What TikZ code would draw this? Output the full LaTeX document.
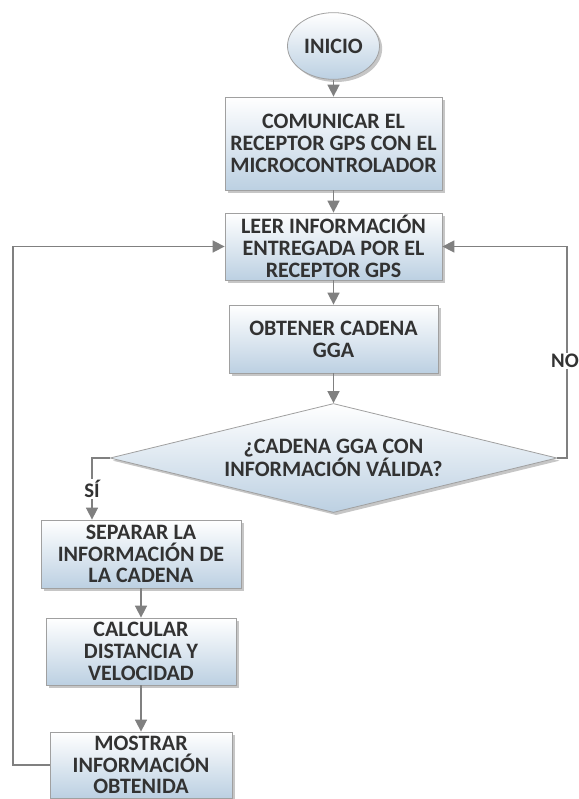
\documentclass[tikz,border=0pt]{standalone}
\usepackage{fontspec}
\setmainfont{Carlito}
\usetikzlibrary{shapes.geometric,arrows.meta,shadows}

\definecolor{boxtop}{RGB}{255,255,255}
\definecolor{boxbot}{RGB}{188,208,226}
\definecolor{boxline}{RGB}{160,160,160}
\definecolor{flowgray}{RGB}{128,128,128}
\definecolor{txtgray}{RGB}{50,50,50}

\tikzset{
  base/.style={draw=boxline, line width=0.6pt, top color=boxtop, bottom color=boxbot,
    drop shadow={shadow xshift=2pt, shadow yshift=-2pt, opacity=0.45, fill=gray},
    text=txtgray, font=\fontsize{16.5}{16.3}\selectfont\bfseries, align=center, inner sep=1pt},
  procbox/.style={base, rectangle},
  startbox/.style={base, ellipse},
  testbox/.style={base, diamond, shape aspect=4.1},
  flow/.style={draw=flowgray, line width=1.2pt, -{Triangle[length=9pt,width=9pt]}},
  lbl/.style={fill=white, text=txtgray, inner sep=1pt, font=\fontsize{15.5}{16.3}\selectfont\bfseries}
}

\begin{document}
\begin{tikzpicture}[x=0.75pt,y=-0.75pt]

				\useasboundingbox (0,0) rectangle (578,799);

				\def\xm{333.5}
				\def\xl{141}

				%main column
				\node[startbox, minimum width=69pt, minimum height=50pt] (inicio) at (\xm,46) {INICIO};
				\node[procbox, minimum width=162.75pt, minimum height=69.75pt] (comunicar) at (\xm,143.5) {COMUNICAR EL\\RECEPTOR GPS CON EL\\MICROCONTROLADOR};
				\node[procbox, minimum width=162.75pt, minimum height=50.25pt] (leer) at (\xm,246.5) {LEER INFORMACIÓN\\ENTREGADA POR EL\\RECEPTOR GPS};
				\node[procbox, minimum width=156.75pt, minimum height=51pt] (obtener) at (\xm,339) {OBTENER CADENA\\GGA};
				\node[testbox, minimum width=335.25pt, minimum height=81.75pt] (valida) at (\xm,458) {¿CADENA GGA CON\\INFORMACIÓN VÁLIDA?};

				%left column
				\node[procbox, minimum width=150pt, minimum height=51pt] (separar) at (\xl,554) {SEPARAR LA\\INFORMACIÓN DE\\LA CADENA};
				\node[procbox, minimum width=142.5pt, minimum height=50.25pt] (calcular) at (\xl,651.5) {CALCULAR\\DISTANCIA Y\\VELOCIDAD};
				\node[procbox, minimum width=136.5pt, minimum height=49.5pt] (mostrar) at (\xl,765) {MOSTRAR\\INFORMACIÓN\\OBTENIDA};

				\coordinate (noturn) at (567,458);
				\coordinate (siturn) at (92,458);
				\coordinate (loopturn) at (13,765);

				%arrows
				\draw[flow] (inicio) -- (comunicar);
				\draw[flow] (comunicar) -- (leer);
				\draw[flow] (leer) -- (obtener);
				\draw[flow] (obtener) -- (valida);
				\draw[flow] (valida.east) -- (noturn) |- node[lbl, pos=0.23, xshift=-1.5pt] {NO} (leer.east);
				\draw[flow] (valida.west) -- (siturn) -- node[lbl] {SÍ} (siturn |- separar.north);
				\draw[flow] (separar) -- (calcular);
				\draw[flow] (calcular) -- (mostrar);
				\draw[flow] (mostrar.west) -- (loopturn) |- (leer.west);

\end{tikzpicture}
\end{document}
